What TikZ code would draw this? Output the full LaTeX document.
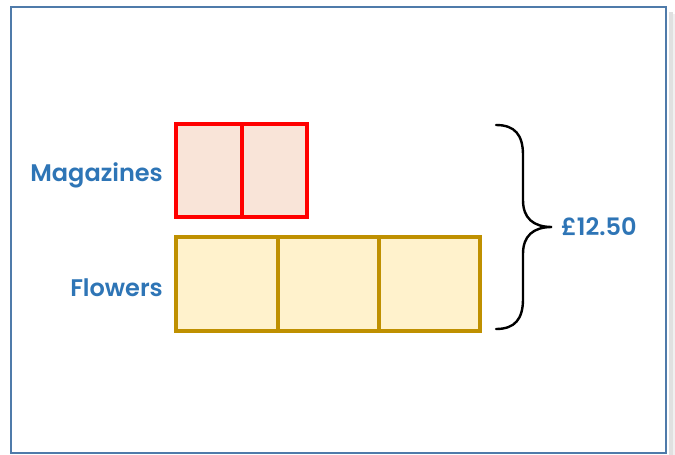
\documentclass[tikz,border=0pt]{standalone}
\usepackage{fontspec}
\newfontfamily\lblfont{Poppins}[UprightFont=* SemiBold]
\definecolor{frameblue}{HTML}{4F7BAA}
\definecolor{txtblue}{HTML}{2E75B6}
\definecolor{magred}{HTML}{FF0000}
\definecolor{magfill}{HTML}{F9E4D8}
\definecolor{flgold}{HTML}{BF9000}
\definecolor{flfill}{HTML}{FFF2CC}
\tikzset{
  lbl/.style={font=\lblfont\fontsize{24}{28}\selectfont, text=txtblue, inner sep=0pt},
  magcell/.style={draw=magred, fill=magfill, line width=4pt},
  flcell/.style={draw=flgold, fill=flfill, line width=4pt},
  bracestyle/.style={draw=black, line width=2.4pt, line cap=round},
}
\begin{document}
\begin{tikzpicture}[x=1pt,y=-1pt]
\useasboundingbox (0,0) rectangle (675,455);
% shadow
\fill[black!12] (669,12) rectangle (673,457);
\fill[black!6] (673,14) rectangle (675,457);
\fill[white] (11,7) rectangle (666,453);
\draw[frameblue, line width=1.3pt] (11,7) rectangle (666,453);
% magazines
\draw[magcell] (176,124) rectangle (307,217);
\draw[magcell] (242,124) -- (242,217);
% flowers
\draw[flcell] (176,237) rectangle (480,331);
\draw[flcell] (278,237) -- (278,331);
\draw[flcell] (379,237) -- (379,331);
% labels
\node[lbl, anchor=east] (mag) at (163,175) {Magazines};
\node[lbl, anchor=east] (flw) at (163,288) {Flowers};
% brace
\coordinate (bt) at (496,125);
\coordinate (bm) at (552,227);
\coordinate (bb) at (496,329);
\draw[bracestyle] (bt) .. controls (515,125) and (523,135) .. (523,155)
  -- (523,200) .. controls (523,218) and (533,227) .. (bm)
  .. controls (533,227) and (523,236) .. (523,254)
  -- (523,299) .. controls (523,319) and (515,329) .. (bb);
\node[lbl, anchor=west] (tot) at (561,227) {£12.50};
\end{tikzpicture}
\end{document}
